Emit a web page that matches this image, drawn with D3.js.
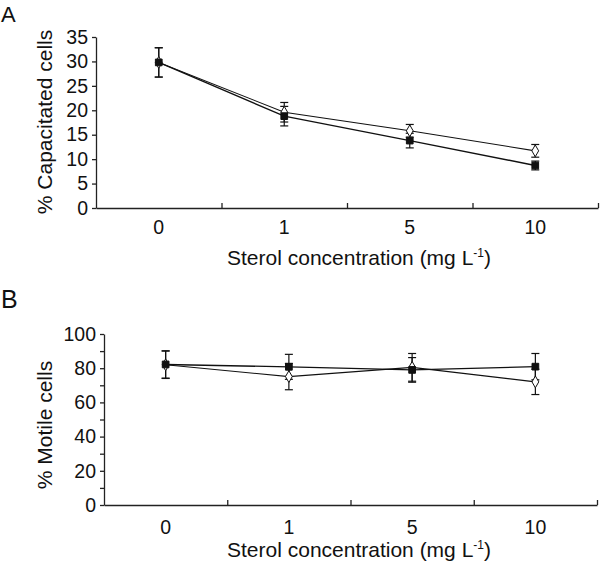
<!DOCTYPE html>
<html>
<head>
<meta charset="utf-8">
<script src="https://cdn.jsdelivr.net/npm/d3@7"></script>
<style>
	body { margin: 0; background: #fff; }
	svg text { font-family: Arial, "Liberation Sans", sans-serif; fill: #111; }
	.axis path, .axis line { stroke: #222; stroke-width: 1.3; }
</style>
</head>
<body>
<svg id="chart" width="600" height="569"></svg>
<script>
// values
const categories = ["0", "1", "5", "10"];

const capFilled = [29.8, 18.8, 13.8, 8.7];
const capFilledErr = [3.0, 2.0, 1.5, 0.9];
const capOpen = [29.8, 19.6, 15.8, 11.7];
const capOpenErr = [3.0, 2.0, 1.3, 1.3];
const capTicks = [0, 5, 10, 15, 20, 25, 30, 35];

const motFilled = [82.2, 80.8, 79.0, 80.9];
const motFilledErr = [8.0, 7.3, 7.2, 7.7];
const motOpen = [82.0, 75.1, 80.5, 72.0];
const motOpenErr = [8.0, 7.7, 8.1, 7.4];
const motTicks = [0, 10, 20, 30, 40, 50, 60, 70, 80, 90, 100];
const motLabels = [0, 20, 40, 60, 80, 100];

const svg = d3.select("#chart");

function drawPanel(opt) {
	const g = svg.append("g");

	const x = d3.scaleBand()
		.domain(categories)
		.range([opt.left, opt.right]);
	const xEdge = d3.scaleLinear()
		.domain([0, categories.length])
		.range([opt.left, opt.right]);
	const y = d3.scaleLinear()
		.domain(opt.domain)
		.range([opt.bottom, opt.top]);

	// x axis: boundary ticks pointing up, labels centred in each band
	g.append("g")
		.attr("class", "axis")
		.attr("transform", "translate(0," + opt.bottom + ")")
		.call(d3.axisBottom(xEdge).tickValues([1, 2, 3, 4]).tickSize(-5).tickSizeOuter(0).tickFormat(""));
	g.append("g")
		.attr("class", "axis labels")
		.attr("transform", "translate(0," + opt.bottom + ")")
		.call(d3.axisBottom(x).tickSize(0).tickPadding(opt.labelPad))
		.call(a => a.select(".domain").remove())
		.selectAll("text").style("font-size", "19.5px");

	// y axis
	g.append("g")
		.attr("class", "axis")
		.attr("transform", "translate(" + opt.left + ",0)")
		.call(d3.axisLeft(y).tickValues(opt.ticks).tickSize(4).tickSizeOuter(0).tickPadding(4)
			.tickFormat(d => opt.labels.includes(d) ? d : ""))
		.selectAll("text").style("font-size", "19.5px");

	const cx = (d, i) => x(categories[i]) + x.bandwidth() / 2;

	const line = d3.line()
		.x((d, i) => cx(d, i))
		.y(d => y(d));

	const series = [
		{ values: opt.open, err: opt.openErr, filled: false, width: 1.1 },
		{ values: opt.filled, err: opt.filledErr, filled: true, width: 1.4 }
	];

	series.forEach(s => {
		g.append("path")
			.datum(s.values)
			.attr("d", line)
			.attr("fill", "none")
			.attr("stroke", "#111")
			.attr("stroke-width", s.width);
	});

	series.forEach(s => {
		const eb = g.append("g").selectAll("g")
			.data(s.values)
			.enter().append("g");
		eb.append("line")
			.attr("x1", cx).attr("x2", cx)
			.attr("y1", (d, i) => y(d + s.err[i]))
			.attr("y2", (d, i) => y(d - s.err[i]));
		eb.append("line")
			.attr("x1", (d, i) => cx(d, i) - 4).attr("x2", (d, i) => cx(d, i) + 4)
			.attr("y1", (d, i) => y(d + s.err[i]))
			.attr("y2", (d, i) => y(d + s.err[i]));
		eb.append("line")
			.attr("x1", (d, i) => cx(d, i) - 4).attr("x2", (d, i) => cx(d, i) + 4)
			.attr("y1", (d, i) => y(d - s.err[i]))
			.attr("y2", (d, i) => y(d - s.err[i]));
		eb.selectAll("line").attr("stroke", "#111").attr("stroke-width", 1.2);
	});

	series.forEach(s => {
		const sym = d3.symbol().type(s.filled ? d3.symbolSquare : d3.symbolDiamond).size(s.filled ? 45 : 40);
		g.append("g").selectAll("path")
			.data(s.values)
			.enter().append("path")
			.attr("d", sym)
			.attr("transform", (d, i) => "translate(" + cx(d, i) + "," + y(d) + ")")
			.attr("fill", s.filled ? "#111" : "#fff")
			.attr("stroke", "#111")
			.attr("stroke-width", 1);
	});

	// axis titles
	const title = g.append("text")
		.attr("x", 359)
		.attr("y", opt.bottom + opt.titlePad)
		.attr("text-anchor", "middle")
		.style("font-size", "21px");
	title.append("tspan").text("Sterol concentration (mg L");
	title.append("tspan").attr("dy", -8).style("font-size", "12px").text("-1");
	title.append("tspan").attr("dy", 8).text(")");

	g.append("text")
		.attr("transform", "translate(52," + opt.titleY + ") rotate(-90)")
		.attr("text-anchor", "middle")
		.style("font-size", "21px")
		.text(opt.yTitle);

	g.append("text")
		.attr("x", 1)
		.attr("y", opt.letterY)
		.style("font-size", opt.letterSize)
		.text(opt.letter);
}

drawPanel({
	left: 96, right: 598, top: 37, bottom: 208,
	domain: [0, 35], ticks: capTicks, labels: capTicks,
	filled: capFilled, filledErr: capFilledErr,
	open: capOpen, openErr: capOpenErr,
	labelPad: 12, titlePad: 57,
	yTitle: "% Capacitated cells", titleY: 122,
	letter: "A", letterY: 22, letterSize: "22px"
});

drawPanel({
	left: 104, right: 597, top: 334, bottom: 505,
	domain: [0, 100], ticks: motTicks, labels: motLabels,
	filled: motFilled, filledErr: motFilledErr,
	open: motOpen, openErr: motOpenErr,
	labelPad: 15, titlePad: 52,
	yTitle: "% Motile cells", titleY: 425,
	letter: "B", letterY: 308, letterSize: "25px"
});
</script>
</body>
</html>
